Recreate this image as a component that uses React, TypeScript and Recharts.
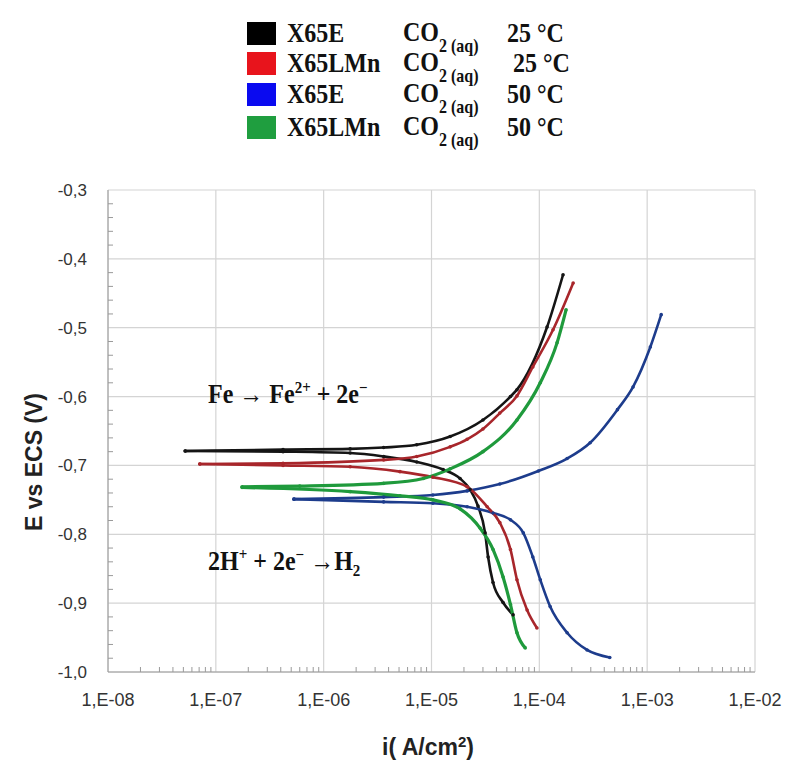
import { LineChart, Line, XAxis, YAxis, ReferenceLine } from 'recharts'

// current density i (A/cm2) and potential E (V vs ECS), each branch read from Ecorr outwards
const x65e25AnoI = [5.2e-8, 4.2e-7, 1.76e-6, 3.6e-6, 7.3e-6, 1.49e-5, 3.0e-5, 5.4e-5, 6.2e-5, 1.18e-4, 1.66e-4]
const x65e25AnoE = [-0.679, -0.677, -0.676, -0.674, -0.67, -0.658, -0.634, -0.6, -0.59, -0.499, -0.423]
const x65e25CatI = [5.2e-8, 4.2e-7, 1.76e-6, 3.6e-6, 7.3e-6, 1.28e-5, 1.84e-5, 2.28e-5, 2.7e-5, 3.14e-5, 3.35e-5, 3.72e-5, 4.61e-5, 5.71e-5]
const x65e25CatE = [-0.679, -0.68, -0.682, -0.687, -0.695, -0.706, -0.719, -0.735, -0.759, -0.798, -0.833, -0.87, -0.899, -0.917]

const lmn25AnoI = [7.1e-8, 4.2e-7, 3.6e-6, 7.3e-6, 1.49e-5, 2.14e-5, 3.0e-5, 4.3e-5, 6.2e-5, 8.7e-5, 1.34e-4, 2.06e-4]
const lmn25AnoE = [-0.698, -0.697, -0.692, -0.687, -0.673, -0.662, -0.647, -0.624, -0.599, -0.557, -0.503, -0.435]
const lmn25CatI = [7.1e-8, 4.2e-7, 1.76e-6, 5.1e-6, 1.03e-5, 2.14e-5, 3.28e-5, 4.3e-5, 5.4e-5, 6.2e-5, 7.7e-5, 9.5e-5]
const lmn25CatE = [-0.698, -0.7, -0.702, -0.709, -0.717, -0.731, -0.76, -0.783, -0.822, -0.866, -0.91, -0.936]

const x65e50AnoI = [5.3e-7, 3.6e-6, 1.03e-5, 2.14e-5, 4.3e-5, 9.8e-5, 1.81e-4, 2.96e-4, 5.3e-4, 7.4e-4, 1.07e-3, 1.35e-3]
const x65e50AnoE = [-0.749, -0.746, -0.743, -0.737, -0.727, -0.708, -0.69, -0.667, -0.619, -0.586, -0.528, -0.481]
const x65e50CatI = [5.3e-7, 3.6e-6, 1.03e-5, 2.14e-5, 3.72e-5, 5.4e-5, 7.1e-5, 8.7e-5, 1.02e-4, 1.26e-4, 1.81e-4, 2.77e-4, 4.5e-4]
const x65e50CatE = [-0.749, -0.753, -0.755, -0.76, -0.769, -0.779, -0.798, -0.833, -0.866, -0.905, -0.943, -0.968, -0.979]

const lmn50AnoI = [1.75e-7, 6.0e-7, 3.6e-6, 8.4e-6, 1.49e-5, 3.0e-5, 6.2e-5, 1.02e-4, 1.46e-4, 1.77e-4]
const lmn50AnoE = [-0.731, -0.73, -0.726, -0.719, -0.705, -0.68, -0.634, -0.58, -0.522, -0.474]
const lmn50CatI = [1.75e-7, 1.76e-6, 5.1e-6, 1.03e-5, 1.84e-5, 2.82e-5, 3.72e-5, 4.61e-5, 5.4e-5, 6.2e-5, 7.4e-5]
const lmn50CatE = [-0.732, -0.738, -0.744, -0.75, -0.763, -0.791, -0.822, -0.862, -0.902, -0.943, -0.965]

const alloys = ['X65E', 'X65LMn', 'X65E', 'X65LMn']
const temps = ['25 °C', '25 °C', '50 °C', '50 °C']
const lineColors = ['#151515', '#a8262b', '#1d3c8c', '#1f9a3c']
const swatchColors = ['#000000', '#e8141c', '#0a0af0', '#1f9e3f']

const xMajor = [1e-8, 1e-7, 1e-6, 1e-5, 1e-4, 1e-3, 1e-2]
const xLabels = ['1,E-08', '1,E-07', '1,E-06', '1,E-05', '1,E-04', '1,E-03', '1,E-02']
const yMajor = [-1.0, -0.9, -0.8, -0.7, -0.6, -0.5, -0.4, -0.3]
const yLabels = ['-1,0', '-0,9', '-0,8', '-0,7', '-0,6', '-0,5', '-0,4', '-0,3']

const zip = (i: number[], e: number[]) => i.map((v, k) => ({ i: v, E: e[k] }))

const branches = [
  { id: 'k25a', c: 0, data: zip(x65e25AnoI, x65e25AnoE) },
  { id: 'k25c', c: 0, data: zip(x65e25CatI, x65e25CatE) },
  { id: 'b50a', c: 2, data: zip(x65e50AnoI, x65e50AnoE) },
  { id: 'b50c', c: 2, data: zip(x65e50CatI, x65e50CatE) },
  { id: 'r25a', c: 1, data: zip(lmn25AnoI, lmn25AnoE) },
  { id: 'r25c', c: 1, data: zip(lmn25CatI, lmn25CatE) },
  { id: 'g50a', c: 3, data: zip(lmn50AnoI, lmn50AnoE) },
  { id: 'g50c', c: 3, data: zip(lmn50CatI, lmn50CatE) },
]

// minor ticks: 2..9 per decade on x, every 0.02 V on y
const xTicks: number[] = []
xMajor.forEach((d, k) => {
  xTicks.push(d)
  if (k < xMajor.length - 1) for (let m = 2; m <= 9; m++) xTicks.push(m * d)
})
const yTicks: number[] = []
yMajor.forEach((v, k) => {
  yTicks.push(v)
  if (k < yMajor.length - 1) for (let m = 1; m <= 4; m++) yTicks.push(+(v + m * 0.02).toFixed(2))
})

const axisFont = '"Liberation Sans", Arial, sans-serif'
const serif = '"Liberation Serif", "Times New Roman", serif'

function XTick({ x, y, payload }: any) {
  const idx = xMajor.indexOf(payload.value)
  return (
    <g>
      {idx < 0 && <line x1={x} x2={x} y1={y} y2={y - 5} stroke="#9a9a9a" />}
      {idx >= 0 && (
        <text x={x} y={y + 34} textAnchor="middle" fontSize={18} fill="#333" fontFamily={axisFont}>{xLabels[idx]}</text>
      )}
    </g>
  )
}

function YTick({ x, y, payload }: any) {
  const idx = yMajor.findIndex(v => Math.abs(v - payload.value) < 1e-6)
  return (
    <g>
      {idx < 0 && <line x1={x} x2={x + 5} y1={y} y2={y} stroke="#9a9a9a" />}
      {idx >= 0 && (
        <text x={x - 21} y={y} dy="0.35em" textAnchor="end" fontSize={17} fill="#333" fontFamily={axisFont}>{yLabels[idx]}</text>
      )}
    </g>
  )
}

const rowCenters = [33, 63, 94, 127]
const tall = { display: 'inline-block', transform: 'scaleY(1.13)', transformOrigin: '50% 60%' }

export default function App() {
  return (
    <div style={{ position: 'absolute', left: 0, top: 0, width: 786, height: 769, background: '#fff' }}>
      {/* legend */}
      {alloys.map((a, k) => (
        <div key={k} style={{ position: 'absolute', left: 0, top: rowCenters[k] - 15, height: 30, width: 786, fontFamily: serif, fontWeight: 'bold', fontSize: 24, color: '#111', lineHeight: '30px' }}>
          <div style={{ position: 'absolute', left: 247, top: 4, width: 29, height: 23, background: swatchColors[k] }} />
          <span style={{ position: 'absolute', left: 287, top: 0, ...tall }}>{a}</span>
          <span style={{ position: 'absolute', left: 403, top: 0, ...tall }}>
            CO<span style={{ fontSize: 16, position: 'relative', top: 9 }}>2 (aq)</span>
          </span>
          <span style={{ position: 'absolute', left: k === 1 ? 513 : 507, top: 0, ...tall }}>{temps[k]}</span>
        </div>
      ))}

      <div style={{ position: 'absolute', left: 0, top: 0 }}>
        <LineChart width={786} height={769} margin={{ top: 190, right: 31, bottom: 67, left: 48 }}>
          {xMajor.map(v => (
            <ReferenceLine key={'vx' + v} x={v} stroke="#d4d4d4" strokeWidth={1.2} />
          ))}
          {yMajor.map(v => (
            <ReferenceLine key={'hy' + v} y={v} stroke="#d4d4d4" strokeWidth={1.2} />
          ))}
          <XAxis
            type="number" dataKey="i" scale="log" domain={[1e-8, 1e-2]} allowDataOverflow
            ticks={xTicks} interval={0} tickSize={0} tickMargin={0} height={30}
            axisLine={{ stroke: '#9a9a9a' }} tick={(p: any) => <XTick {...p} />}
          />
          <YAxis
            type="number" domain={[-1, -0.3]} allowDataOverflow
            ticks={yTicks} interval={0} tickSize={0} tickMargin={0} width={60}
            axisLine={{ stroke: '#9a9a9a' }} tick={(p: any) => <YTick {...p} />}
          />
          {branches.map(b => (
            <Line
              key={b.id} data={b.data} dataKey="E" type="monotone"
              stroke={lineColors[b.c]} strokeWidth={b.c === 3 ? 3.2 : 2.6}
              dot={{ r: 1.8, fill: lineColors[b.c], stroke: 'none' }} activeDot={false}
              isAnimationActive={false}
            />
          ))}
        </LineChart>
      </div>

      {/* reaction labels */}
      <div style={{ position: 'absolute', left: 208, top: 380, fontFamily: serif, fontWeight: 'bold', fontSize: 24, color: '#111', whiteSpace: 'nowrap', transform: 'scaleY(1.1)' }}>
        Fe → Fe<sup style={{ fontSize: 15 }}>2+</sup> + 2e<sup style={{ fontSize: 15 }}>−</sup>
      </div>
      <div style={{ position: 'absolute', left: 208, top: 547, fontFamily: serif, fontWeight: 'bold', fontSize: 24, color: '#111', whiteSpace: 'nowrap', transform: 'scaleY(1.1)' }}>
        2H<sup style={{ fontSize: 15 }}>+</sup> + 2e<sup style={{ fontSize: 15 }}>−</sup> →H<sub style={{ fontSize: 15 }}>2</sub>
      </div>

      {/* axis titles */}
      <div style={{ position: 'absolute', left: 34, top: 462, transform: 'translate(-50%, -50%) rotate(-90deg)', fontFamily: axisFont, fontWeight: 'bold', fontSize: 23, color: '#222', whiteSpace: 'nowrap' }}>
        E vs ECS (V)
      </div>
      <div style={{ position: 'absolute', left: 428, top: 747, transform: 'translate(-50%, -50%)', fontFamily: axisFont, fontWeight: 'bold', fontSize: 23, color: '#222', whiteSpace: 'nowrap' }}>
        i( A/cm<sup style={{ fontSize: 15 }}>2</sup>)
      </div>
    </div>
  )
}
